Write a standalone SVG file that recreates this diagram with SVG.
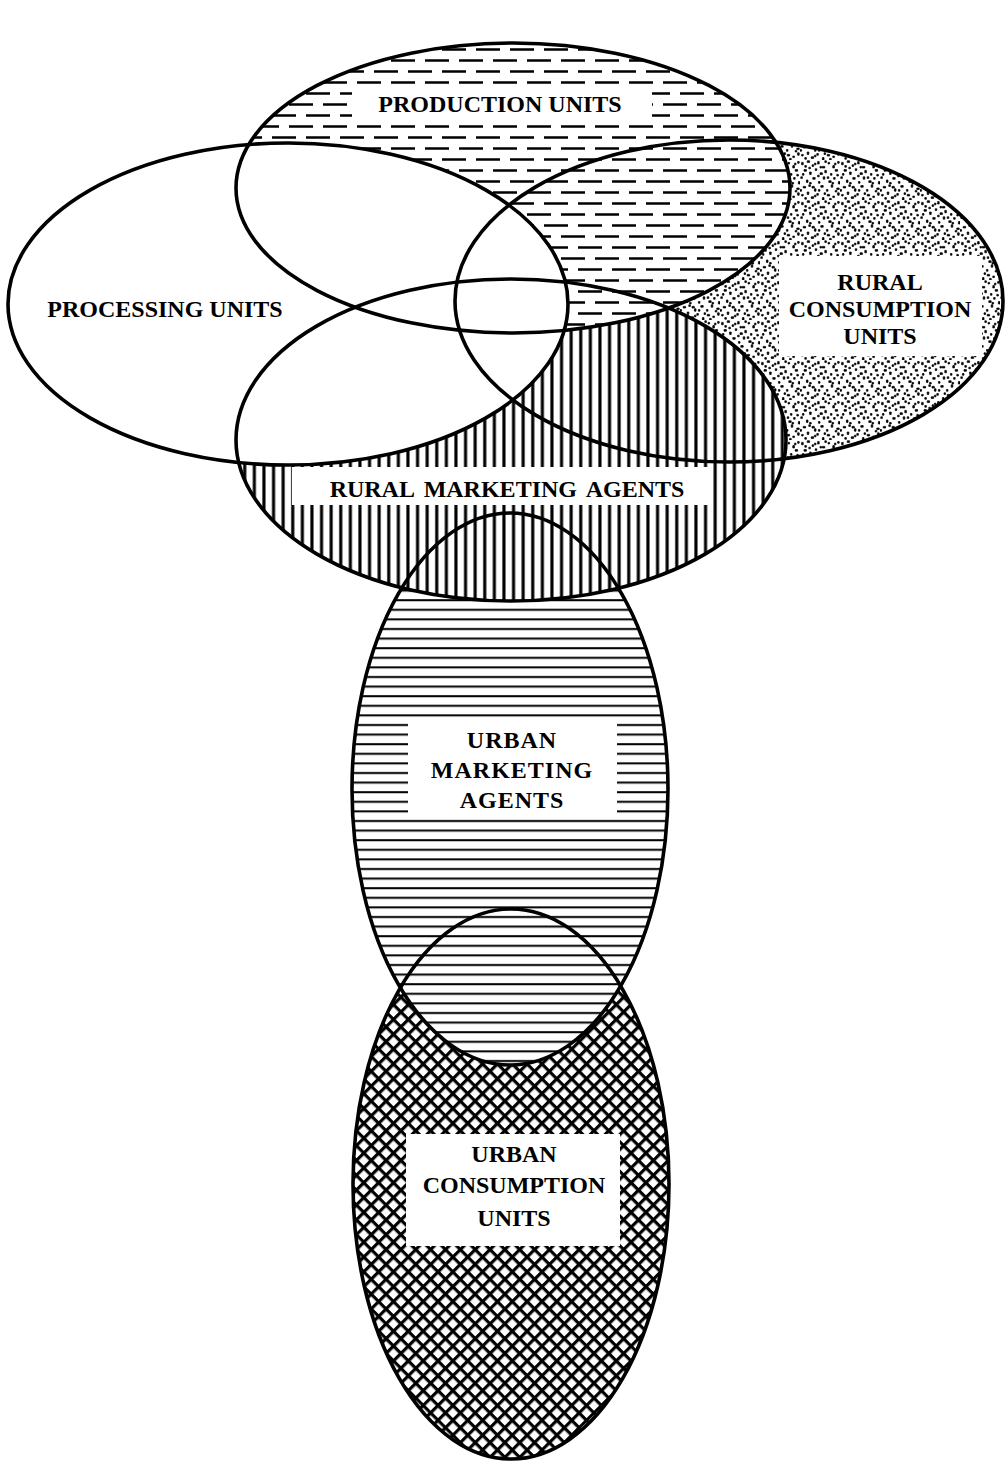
<svg xmlns="http://www.w3.org/2000/svg" width="1005" height="1467" viewBox="0 0 1005 1467">
<style>
.lbl{font-family:"Liberation Serif","DejaVu Serif",serif;font-weight:bold;font-size:24px;fill:#000;text-anchor:middle}
.out{fill:none;stroke:#000;stroke-width:3.6}
.box{fill:#fff;stroke:none}
</style>
<defs>
<pattern id="dash" patternUnits="userSpaceOnUse" width="68" height="22">
<rect width="68" height="22" fill="#fff"/>
<path d="M0 5.5h24M34 5.5h24M17 16.5h24M51 16.5h17M0 16.5h7" stroke="#000" stroke-width="2.7"/>
</pattern>
<pattern id="dots" patternUnits="userSpaceOnUse" width="50" height="50" patternTransform="scale(0.8)">
<rect width="50" height="50" fill="#fff"/>
<path fill="#000" stroke="#000" stroke-width="0.9" d="M2 3h2v3h-2z M9 1h3v2h-3z M15 6h2v2h-2z M22 2h2v3h-2z M28 8h3v2h-3z M35 3h2v2h-2z M41 7h2v3h-2z M47 2h2v2h-2z M5 12h3v2h-3z M12 15h2v3h-2z M19 11h2v2h-2z M25 16h3v2h-3z M31 13h2v3h-2z M38 17h2v2h-2z M44 12h3v2h-3z M1 21h2v2h-2z M8 25h2v3h-2z M16 22h3v2h-3z M23 27h2v2h-2z M29 21h2v3h-2z M36 26h3v2h-3z M42 22h2v2h-2z M48 27h2v3h-2z M4 33h3v2h-3z M11 31h2v2h-2z M18 36h2v3h-2z M26 32h3v2h-3z M33 37h2v2h-2z M39 31h2v3h-2z M46 35h3v2h-3z M2 43h2v2h-2z M9 40h2v3h-2z M14 46h3v2h-3z M21 42h2v2h-2z M28 47h2v3h-2z M34 43h3v2h-3z M41 45h2v2h-2z M47 41h2v3h-2z M6 7h2v2h-2z M18 4h2v2h-2z M31 1h2v2h-2z M43 4h2v2h-2z M3 17h2v2h-2z M22 19h2v2h-2z M34 21h2v2h-2z M46 18h2v2h-2z M12 28h2v2h-2z M40 28h2v2h-2z M0 37h2v2h-2z M15 33h3v2h-3z M30 41h2v2h-2z M23 37h2v2h-2z M44 38h2v2h-2z M6 47h2v2h-2z M18 44h2v2h-2z M37 48h2v2h-2z M25 8h2v2h-2z M11 9h2v2h-2z"/>
</pattern>
<pattern id="vl" patternUnits="userSpaceOnUse" width="9.6" height="10">
<rect width="9.6" height="10" fill="#fff"/>
<rect x="3.2" width="3.1" height="10" fill="#000"/>
</pattern>
<pattern id="hl" patternUnits="userSpaceOnUse" width="10" height="9.6">
<rect width="10" height="9.6" fill="#fff"/>
<rect y="4" width="10" height="2" fill="#000"/>
</pattern>
<pattern id="xh" patternUnits="userSpaceOnUse" width="10.5" height="10.5" patternTransform="rotate(45)">
<rect width="10.5" height="10.5" fill="#fff"/>
<rect width="10.5" height="3.2" fill="#000"/>
<rect width="3.2" height="10.5" fill="#000"/>
</pattern>
</defs>
<rect width="1005" height="1467" fill="#fff"/>

<g id="urban-consumption-units">
<ellipse cx="511" cy="1184" rx="158" ry="275" fill="url(#xh)"/>
</g>
<g id="urban-marketing-agents">
<ellipse cx="510" cy="789" rx="158" ry="276" fill="url(#hl)"/>
</g>
<g id="rural-consumption-units">
<ellipse cx="729" cy="301" rx="274" ry="161" fill="url(#dots)"/>
</g>
<g id="rural-marketing-agents">
<ellipse cx="511" cy="440" rx="275" ry="161" fill="url(#vl)"/>
</g>
<g id="production-units">
<ellipse cx="513" cy="188" rx="277" ry="145" fill="url(#dash)"/>
</g>
<g id="processing-units">
<ellipse cx="288" cy="304" rx="280" ry="161" fill="#fff"/>
</g>

<g id="outlines">
<ellipse class="out" cx="511" cy="1184" rx="158" ry="275"/>
<ellipse class="out" cx="510" cy="789" rx="158" ry="276"/>
<ellipse class="out" cx="729" cy="301" rx="274" ry="161"/>
<ellipse class="out" cx="511" cy="440" rx="275" ry="161"/>
<ellipse class="out" cx="513" cy="188" rx="277" ry="145"/>
<ellipse class="out" cx="288" cy="304" rx="280" ry="161"/>
</g>

<g id="labels">
<rect class="box" x="352" y="87" width="300" height="31"/>
<text class="lbl" x="500" y="112">PRODUCTION UNITS</text>
<text class="lbl" x="165" y="317">PROCESSING UNITS</text>
<rect class="box" x="779" y="256" width="203" height="100"/>
<text class="lbl" x="880" y="290">RURAL</text>
<text class="lbl" x="880" y="317">CONSUMPTION</text>
<text class="lbl" x="880" y="344">UNITS</text>
<rect class="box" x="292" y="467" width="420" height="38"/>
<text class="lbl" x="507" y="497" word-spacing="4">RURAL MARKETING AGENTS</text>
<rect class="box" x="408" y="718" width="209" height="97"/>
<text class="lbl" x="512" y="748" letter-spacing="1">URBAN</text>
<text class="lbl" x="512" y="778" letter-spacing="1">MARKETING</text>
<text class="lbl" x="512" y="808" letter-spacing="1">AGENTS</text>
<rect class="box" x="406" y="1134" width="214" height="112"/>
<text class="lbl" x="514" y="1162">URBAN</text>
<text class="lbl" x="514" y="1193">CONSUMPTION</text>
<text class="lbl" x="514" y="1226">UNITS</text>
</g>
</svg>
